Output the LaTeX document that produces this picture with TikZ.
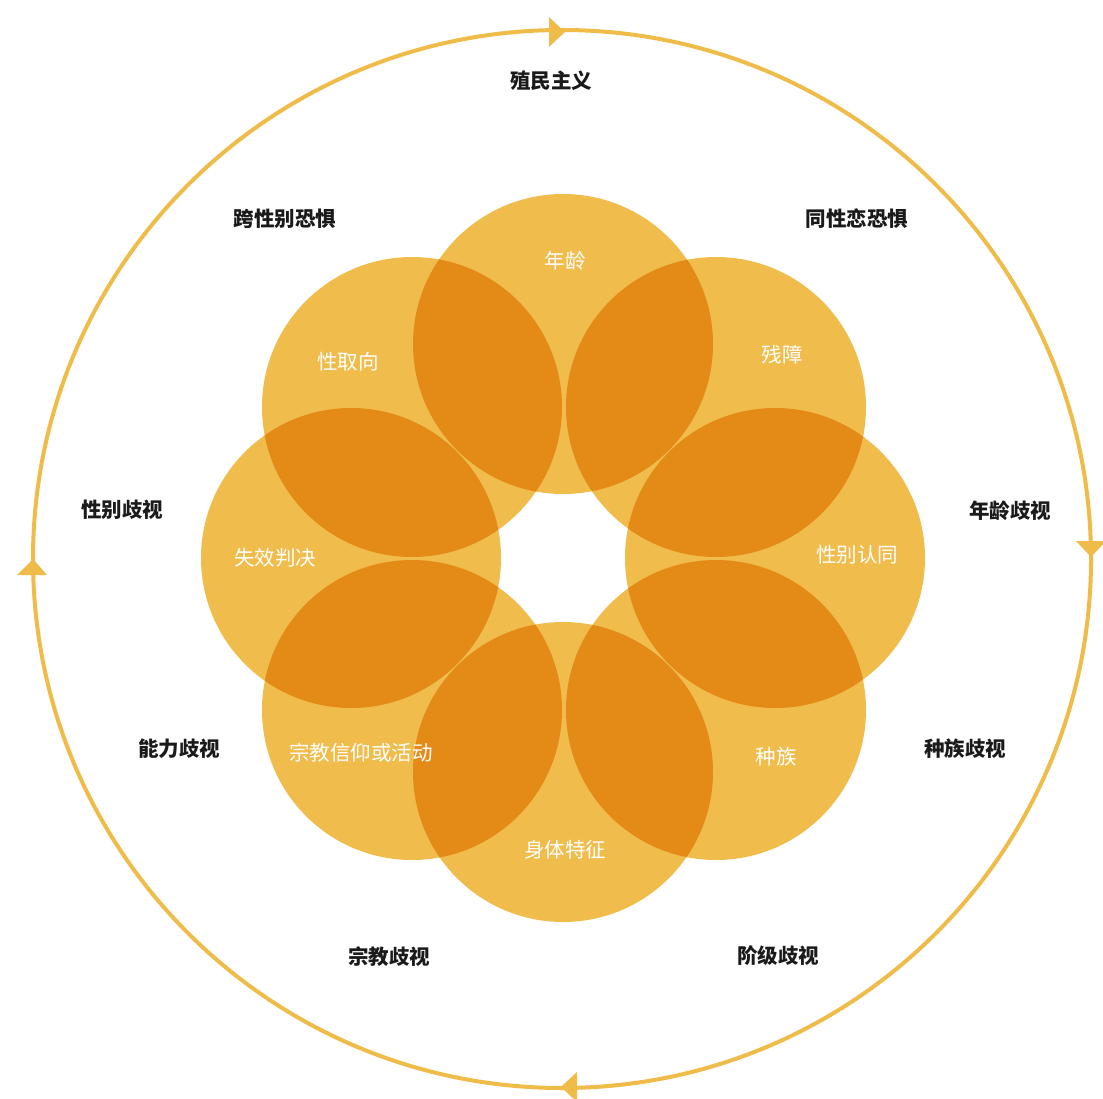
\documentclass[tikz,border=0pt]{standalone}
\usepackage{fontspec}
\newfontfamily\cjk{Noto Sans CJK SC}
\definecolor{petallight}{HTML}{F0BC4C}
\definecolor{petaldark}{HTML}{E38A17}
\definecolor{ringcol}{HTML}{EFBB49}
\definecolor{labeltext}{HTML}{1A1A1A}
\tikzset{
  inlabel/.style={text=white, font=\cjk\fontsize{20.5}{20.5}\selectfont, inner sep=0pt},
  outlabel/.style={text=labeltext, font=\cjk\bfseries\fontsize{20.5}{20.5}\selectfont, inner sep=0pt},
  ring/.style={draw=ringcol, line width=4pt},
  tipshape/.style={fill=ringcol, draw=none}
}
\begin{document}
\begin{tikzpicture}[x=1pt,y=-1pt]
\useasboundingbox (0,0) rectangle (1103,1099);
% outer ring
\coordinate (O) at (562,559);
\draw[ring] (O) circle (529);
\fill[tipshape] (565,32) -- (549,17) -- (549,47) -- cycle;
\fill[tipshape] (1091,557) -- (1076,541) -- (1106,541) -- cycle;
\fill[tipshape] (561,1087) -- (577,1072) -- (577,1102) -- cycle;
\fill[tipshape] (33,559) -- (17,575) -- (47,575) -- cycle;
% petal centres
\coordinate (p1) at (563,344);
\coordinate (p2) at (716,407);
\coordinate (p3) at (775,558);
\coordinate (p4) at (716,710);
\coordinate (p5) at (563,772);
\coordinate (p6) at (412,710);
\coordinate (p7) at (351,558);
\coordinate (p8) at (412,407);
\foreach \p in {p1,p2,p3,p4,p5,p6,p7,p8}
  \fill[petallight] (\p) circle (150);
\foreach \a/\b in {p1/p2,p2/p3,p3/p4,p4/p5,p5/p6,p6/p7,p7/p8,p8/p1}{
  \begin{scope}
    \clip (\a) circle (150);
    \fill[petaldark] (\b) circle (150);
  \end{scope}
}
% inner labels
\node[inlabel] (l1) at (565,261) {年龄};
\node[inlabel] (l2) at (782,355) {残障};
\node[inlabel] (l3) at (857,555) {性别认同};
\node[inlabel] (l4) at (776,757) {种族};
\node[inlabel] (l5) at (565,850) {身体特征};
\node[inlabel] (l6) at (361,753) {宗教信仰或活动};
\node[inlabel] (l7) at (275,558) {失效判决};
\node[inlabel] (l8) at (348,362) {性取向};
% outer labels
\node[outlabel] (o1) at (551,81) {殖民主义};
\node[outlabel] (o2) at (857,219) {同性恋恐惧};
\node[outlabel] (o3) at (1010,511) {年龄歧视};
\node[outlabel] (o4) at (965,749) {种族歧视};
\node[outlabel] (o5) at (778,956) {阶级歧视};
\node[outlabel] (o6) at (389,957) {宗教歧视};
\node[outlabel] (o7) at (179,749) {能力歧视};
\node[outlabel] (o8) at (122,510) {性别歧视};
\node[outlabel] (o9) at (285,219) {跨性别恐惧};
\end{tikzpicture}
\end{document}
